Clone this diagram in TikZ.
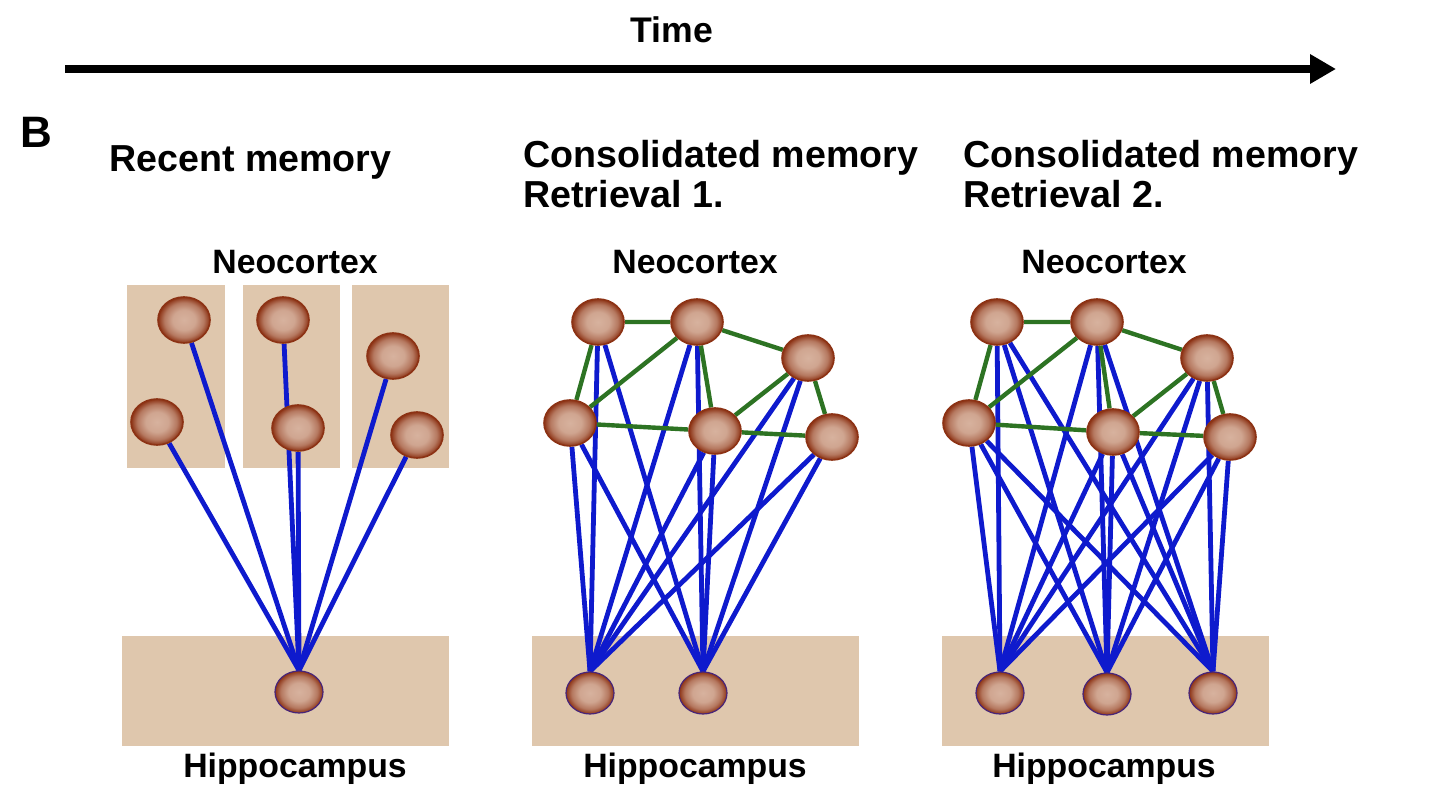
\documentclass[tikz,border=0pt]{standalone}
\usepackage{fontspec}
\setmainfont{Liberation Sans}
\usetikzlibrary{shapes.geometric,arrows.meta}

\definecolor{tissue}{RGB}{223,199,173}
\definecolor{nlight}{RGB}{215,178,158}
\definecolor{ndark}{RGB}{140,50,20}
\definecolor{axonblue}{RGB}{14,26,205}
\definecolor{linkgreen}{RGB}{45,115,35}

\pgfdeclareradialshading{neuronball}{\pgfpoint{0bp}{0bp}}{%
    color(0bp)=(nlight); color(11bp)=(nlight!90!ndark);
    color(19bp)=(nlight!55!ndark); color(25bp)=(ndark); color(50bp)=(ndark)}

\pgfdeclarelayer{regions}
\pgfdeclarelayer{wires}
\pgfsetlayers{regions,wires,main}

\tikzset{
    neuron/.style={ellipse,minimum width=26pt,minimum height=23pt,inner sep=0pt,
        shading=neuronball,draw=ndark,line width=0.8pt},
    hneuron/.style={neuron,minimum width=24pt,minimum height=21pt,
        draw=axonblue!55!ndark,line width=0.6pt},
    axon/.style={axonblue,line width=2.4pt},
    link/.style={linkgreen,line width=2.2pt},
    title/.style={font=\bfseries\fontsize{18.8}{22}\selectfont,anchor=base west,inner sep=0pt},
    area/.style={font=\bfseries\fontsize{16.9}{20}\selectfont,anchor=base,inner sep=0pt}
}

\begin{document}
\begin{tikzpicture}[x=0.5pt,y=-0.5pt]
    \useasboundingbox (0,0) rectangle (1440,812);

    % Time arrow
    \coordinate (tstart) at (65,69);
    \coordinate (tend) at (1336,69);
    \draw[line width=4pt,-{Triangle[length=13pt,width=14pt]}] (tstart) -- (tend);
    \node[font=\bfseries\fontsize{17.8}{20}\selectfont,anchor=base,inner sep=0pt] (time) at (672,43) {Time};

    \node[font=\bfseries\fontsize{22}{24}\selectfont,anchor=base west,inner sep=0pt] (panel) at (20,148) {B};

    % Titles
    \node[title] (t1) at (109,172) {Recent memory};
    \node[title] (t2) at (523,168) {Consolidated memory};
    \node[title] (t2b) at (523,208) {Retrieval 1.};
    \node[title] (t3) at (963,168) {Consolidated memory};
    \node[title] (t3b) at (963,208) {Retrieval 2.};

    % Region names
    \foreach \x/\n in {295/1,695/2,1104/3} {
        \node[area] (neo\n) at (\x,274) {Neocortex};
        \node[area] (hip\n) at (\x,777) {Hippocampus};
    }

    % Tissue: boxes behind everything
    \begin{pgfonlayer}{regions}
        \fill[tissue] (127,285) rectangle (225,468);
        \fill[tissue] (243,285) rectangle (340,468);
        \fill[tissue] (352,285) rectangle (449,468);
        \foreach \x in {122,532,942}
            \fill[tissue] (\x,636) rectangle (\x+327,746);
    \end{pgfonlayer}

    % Recent memory: separate cortical modules
    \node[neuron] (n1) at (184,320) {};
    \node[neuron] (n2) at (157,422) {};
    \node[neuron] (n3) at (283,320) {};
    \node[neuron] (n4) at (298,428) {};
    \node[neuron] (n5) at (393,356) {};
    \node[neuron] (n6) at (417,435) {};
    \node[hneuron] (h0) at (299,692) {};

    % Retrieval 1
    \node[neuron] (a1) at (598,322) {};
    \node[neuron] (a2) at (697,322) {};
    \node[neuron] (a3) at (808,358) {};
    \node[neuron] (a4) at (570,423) {};
    \node[neuron] (a5) at (715,431) {};
    \node[neuron] (a6) at (832,437) {};
    \node[hneuron] (h1) at (590,693) {};
    \node[hneuron] (h2) at (703,693) {};

    % Retrieval 2
    \node[neuron] (b1) at (997,322) {};
    \node[neuron] (b2) at (1097,322) {};
    \node[neuron] (b3) at (1207,358) {};
    \node[neuron] (b4) at (969,423) {};
    \node[neuron] (b5) at (1113,432) {};
    \node[neuron] (b6) at (1230,437) {};
    \node[hneuron] (g1) at (1000,693) {};
    \node[hneuron] (g2) at (1107,694) {};
    \node[hneuron] (g3) at (1213,693) {};

    \begin{pgfonlayer}{wires}
        % Hippocampal links
        \foreach \i in {1,...,6} {
            \draw[axon] (n\i) -- (h0.north);
            \foreach \h in {h1,h2}
                \draw[axon] (a\i) -- (\h.north);
            \foreach \h in {g1,g2,g3}
                \draw[axon] (b\i) -- (\h.north);
        }
        % Cortico-cortical links
        \foreach \c in {a,b} {
            \draw[link] (\c1) -- (\c2) -- (\c3) -- (\c6);
            \draw[link] (\c1) -- (\c4) -- (\c2) -- (\c5) -- (\c3);
            \draw[link] (\c4) -- (\c5) -- (\c6);
        }
    \end{pgfonlayer}
\end{tikzpicture}
\end{document}
